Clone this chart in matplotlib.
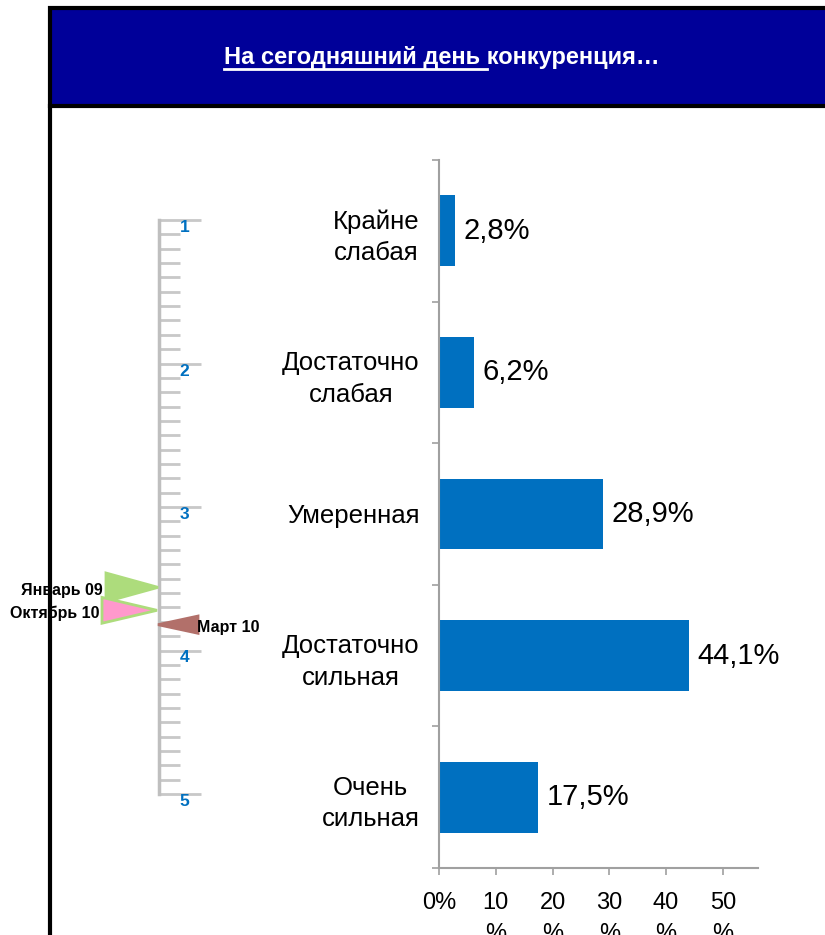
import numpy as np
import matplotlib
matplotlib.use('Agg')
import matplotlib.pyplot as plt
from matplotlib.patches import Rectangle, Polygon
from matplotlib.ticker import MultipleLocator

plt.rcParams['font.family'] = ['Liberation Sans', 'DejaVu Sans']

# данные
categories = ['Крайне\nслабая', 'Достаточно\nслабая', 'Умеренная', 'Достаточно\nсильная', 'Очень\nсильная']
values = [2.8, 6.2, 28.9, 44.1, 17.5]
x_ticks = [0, 10, 20, 30, 40, 50]
x_tick_labels = ['0%', '10\n%', '20\n%', '30\n%', '40\n%', '50\n%']

scale_ticks = [1, 2, 3, 4, 5]
marker_labels = ['Январь 09', 'Октябрь 10', 'Март 10']
marker_values = [3.56, 3.72, 3.82]

title_part1 = 'На сегодняшний день '
title_part2 = 'конкуренция…'

W, H = 825, 935
fig = plt.figure(figsize=(W / 100, H / 100), dpi=100)


def fx(px):
    return px / W


def fy(py):
    return 1 - py / H


# рамка и синяя плашка заголовка
fig.patches.append(Rectangle((fx(50), fy(106)), fx(800), fy(8) - fy(106), transform=fig.transFigure,
                             facecolor='#000099', edgecolor='black', linewidth=3, zorder=0))
fig.add_artist(plt.Line2D([fx(50), fx(50)], [fy(106), 0], transform=fig.transFigure, color='black', lw=3))

title_font = dict(color='white', fontsize=17, fontweight='bold')
t = fig.text(fx(442), fy(64), title_part1 + title_part2, ha='center', va='baseline', **title_font)
fig.canvas.draw()
r = fig.canvas.get_renderer()
bb = t.get_window_extent(r)
t2 = fig.text(0, 0, title_part2, **title_font)
w2 = t2.get_window_extent(r).width
t2.remove()
fig.add_artist(plt.Line2D([bb.x0 / W, (bb.x1 - w2) / W], [fy(68.5), fy(68.5)], transform=fig.transFigure,
                          color='white', lw=2))

# гистограмма
ax = fig.add_axes([fx(439), fy(868), fx(758) - fx(439), fy(160) - fy(868)])
y = np.arange(len(categories))
ax.barh(y, values, height=0.5, color='#0070C0')
ax.set_ylim(len(categories) - 0.5, -0.5)
ax.set_xlim(0, 56.2)
for yi, v in zip(y, values):
    ax.annotate(f'{v:.1f}'.replace('.', ',') + '%', (v, yi), xytext=(6, 0), textcoords='offset points',
                va='center', ha='left', fontsize=21)

ax.set_yticks(y)
ax.set_yticklabels(categories, fontsize=18.5, linespacing=1.4)
for lab in ax.get_yticklabels():
    lab.set_multialignment('center')
ax.set_yticks(np.arange(-0.5, len(categories)), minor=True)
ax.tick_params(axis='y', which='major', length=0, pad=14)
ax.tick_params(axis='y', which='minor', length=5, width=1.2, color='#A0A0A0')
ax.set_xticks(x_ticks)
ax.set_xticklabels(x_tick_labels, fontsize=17, linespacing=1.55)
ax.tick_params(axis='x', length=5, width=1.2, color='#A0A0A0', pad=12)
for s in ['top', 'right']:
    ax.spines[s].set_visible(False)
for s in ['left', 'bottom']:
    ax.spines[s].set_color('#A0A0A0')
    ax.spines[s].set_linewidth(1.5)

# шкала слева
ax2 = fig.add_axes([0, fy(794), fx(260), fy(220) - fy(794)])
ax2.set_xlim(0, 260)
ax2.set_ylim(5, 1)
ax2.patch.set_visible(False)
for s in ['top', 'right', 'bottom']:
    ax2.spines[s].set_visible(False)
ax2.spines['left'].set_position(('data', 159))
ax2.spines['left'].set_color('#BFBFBF')
ax2.spines['left'].set_linewidth(2.5)
ax2.set_xticks([])
ax2.set_yticks(scale_ticks)
ax2.set_yticklabels([str(v) for v in scale_ticks], color='#0070C0', fontsize=12.5, fontweight='bold')
ax2.yaxis.set_minor_locator(MultipleLocator(0.1))
ax2.tick_params(axis='y', which='major', direction='in', length=30, width=2, color='#C8C8C8', pad=-18.5)
ax2.tick_params(axis='y', which='minor', direction='in', length=15, width=2, color='#C8C8C8')
for lab in ax2.get_yticklabels():
    lab.set_ha('center')
    lab.set_va('top')

styles = [
    dict(tip=158, base=106, half=0.1, fc='#ADDC7C', ec='#ADDC7C', text_x=103, ha='right'),
    dict(tip=157, base=102, half=0.09, fc='#FF99CC', ec='#ADDC7C', text_x=99, ha='right'),
    dict(tip=158, base=198, half=0.06, fc='#B2706A', ec='#B2706A', text_x=197, ha='left'),
]
for lab, v, st in zip(marker_labels, marker_values, styles):
    ax2.add_patch(Polygon([(st['tip'], v), (st['base'], v - st['half']), (st['base'], v + st['half'])],
                          closed=True, facecolor=st['fc'], edgecolor=st['ec'], lw=2, clip_on=False, zorder=3))
    ax2.text(st['text_x'], v + 0.02, lab, ha=st['ha'], va='center', fontsize=11.5, fontweight='bold', zorder=4)

fig.savefig('out.png', dpi=100)
